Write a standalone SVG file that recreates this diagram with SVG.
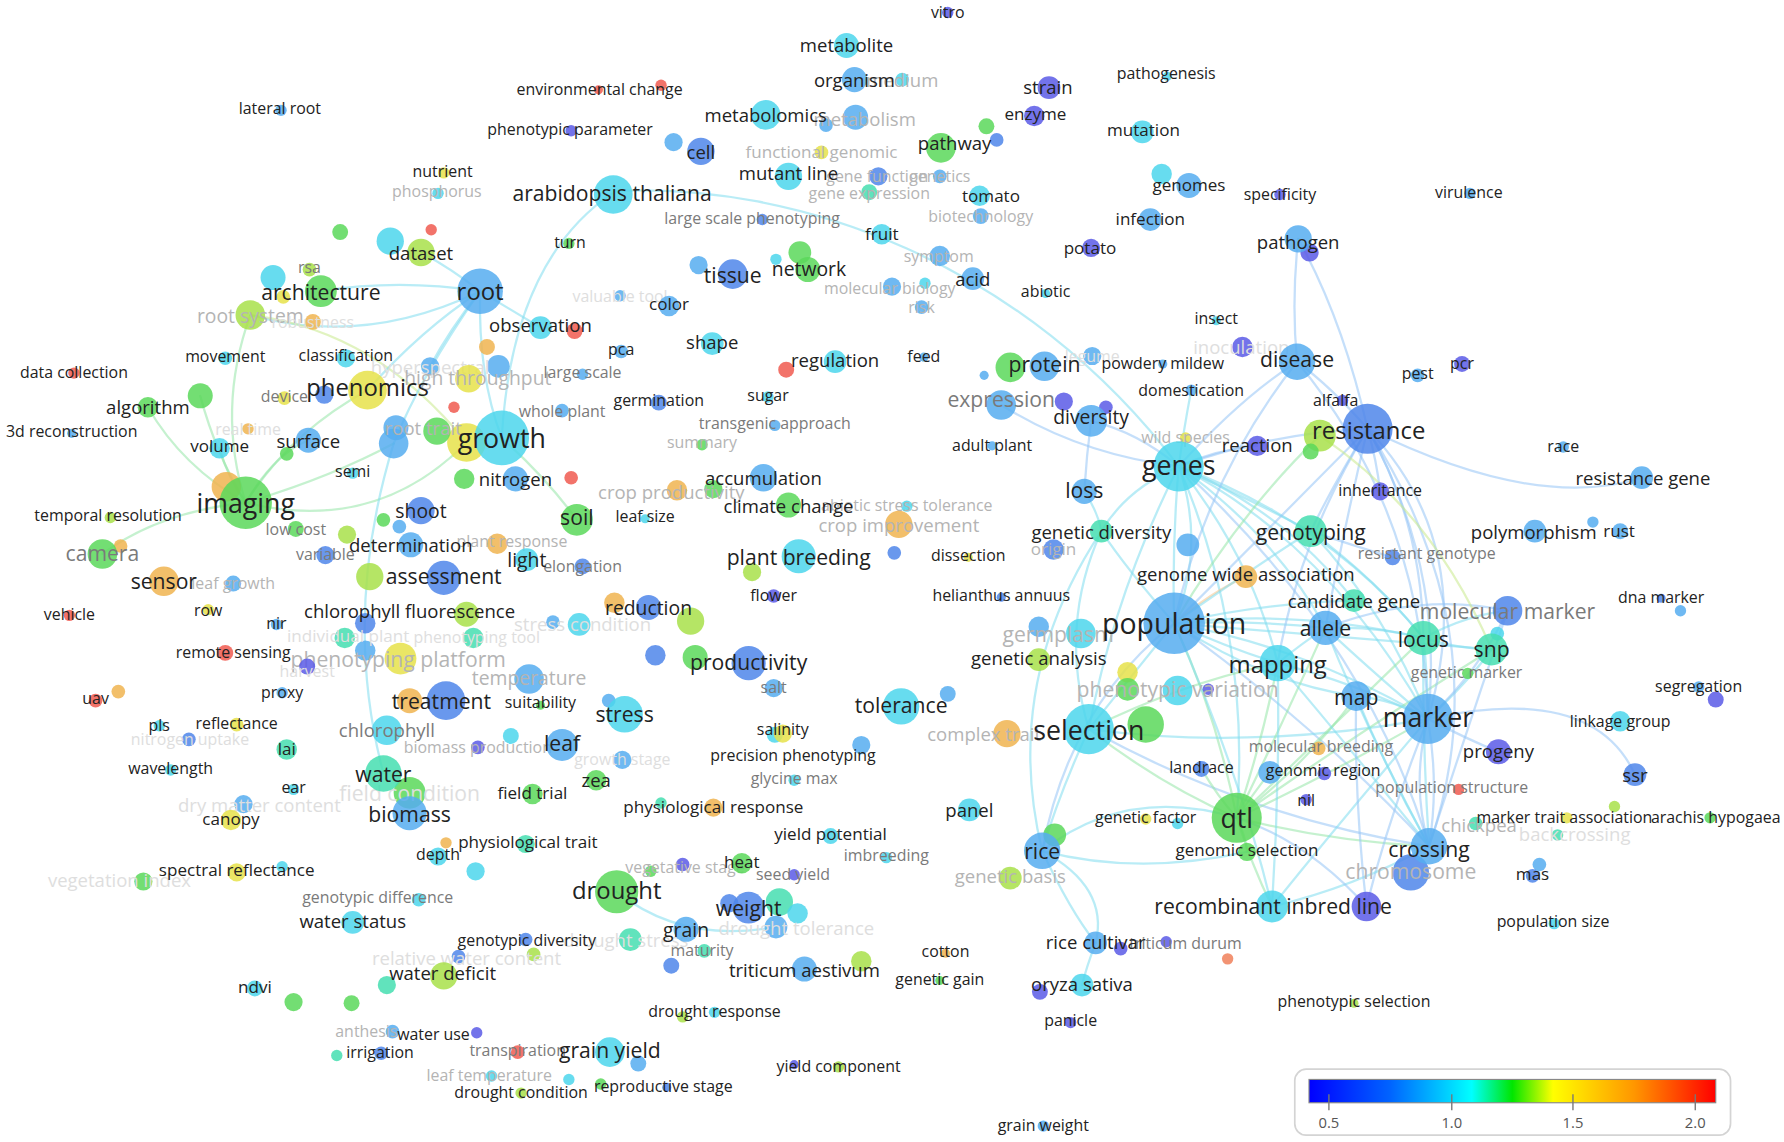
<svg xmlns="http://www.w3.org/2000/svg" width="1784" height="1142" viewBox="0 0 1784 1142">
<defs>
<style>
text{font-family:"Open Sans","Liberation Sans",sans-serif;text-anchor:middle;dominant-baseline:central}
.t{fill:#222}.m{fill:#7a7a7a}.f{fill:#b4b4b4}.x{fill:#dedede}
.s14{font-size:14px}.s15{font-size:15px}.s16{font-size:16.3px}.s17{font-size:17px}.s18{font-size:18.6px}.s21{font-size:21px}.s23{font-size:23.5px}.s25{font-size:25px}
circle{fill-opacity:.85}
.pu{fill:#5a5ae6}.b{fill:#4f86ea}.lb{fill:#56adf0}.cy{fill:#4cd6ec}.tl{fill:#45deb0}.gr{fill:#5ad85a}.yg{fill:#a8e04a}.ye{fill:#e6e24a}.or{fill:#f0b450}.rd{fill:#f05a50}.ro{fill:#f0805a}
.e{fill:none;stroke-width:2;stroke-opacity:.55;stroke-linecap:round}
.ec{stroke:#7fdcef}.eb{stroke:#96c4f5}.eg{stroke:#96e6a8}.ey{stroke:#c8ea8c}.eo{stroke:#f5c58a}
.lg{font-size:13px;fill:#555}
</style>
<linearGradient id="rb" x1="0" x2="1" y1="0" y2="0">
<stop offset="0" stop-color="#0000ff"/><stop offset="0.2" stop-color="#0064ff"/><stop offset="0.4" stop-color="#00ffff"/><stop offset="0.5" stop-color="#00e600"/><stop offset="0.6" stop-color="#ffff00"/><stop offset="0.8" stop-color="#ff9600"/><stop offset="1" stop-color="#ff0000"/>
</linearGradient>
</defs>
<rect width="1784" height="1142" fill="#fff"/>
<g transform="scale(1.13776 1.13745)">
<g id="connectors">
<path class="e eg" d="M216,442 Q160,410 130,358"/>
<path class="e eg" d="M216,442 Q190,400 176,348"/>
<path class="e eg" d="M216,442 Q200,420 193,394"/>
<path class="e eg" d="M216,442 Q255,380 323,343"/>
<path class="e eg" d="M216,442 Q240,400 271,387"/>
<path class="e eg" d="M216,442 Q290,420 346,390"/>
<path class="e eg" d="M216,442 Q330,470 410,389"/>
<path class="e eg" d="M216,442 Q140,450 90,487"/>
<path class="e eg" d="M220,277 Q190,360 216,442"/>
<path class="e ec" d="M220,277 Q320,305 422,256"/>
<path class="e ey" d="M220,277 Q330,290 410,389"/>
<path class="e ec" d="M422,256 Q395,235 370,222"/>
<path class="e ec" d="M422,256 Q350,245 282,256"/>
<path class="e ec" d="M422,256 Q370,290 323,343"/>
<path class="e ec" d="M422,256 Q420,330 441,385"/>
<path class="e ec" d="M422,256 Q445,270 475,288"/>
<path class="e ec" d="M422,256 Q395,290 378,322"/>
<path class="e ec" d="M422,256 Q370,330 346,390"/>
<path class="e ec" d="M538,170 Q450,230 441,385"/>
<path class="e ec" d="M540,168 C700,160 900,230 1036,410"/>
<path class="e eg" d="M441,385 Q480,420 507,457"/>
<path class="e ec" d="M346,390 Q300,540 337,680"/>
<path class="e ec" d="M542,784 Q600,830 682,815"/>
<path class="e eb" d="M959,370 Q955,400 953,432"/>
<path class="e ec" d="M953,432 Q965,450 968,467"/>
<path class="e eb" d="M880,356 Q950,400 1036,410"/>
<path class="e eb" d="M959,370 Q1000,380 1036,410"/>
<path class="e ec" d="M1047,343 Q1040,380 1036,410"/>
<path class="e ec" d="M1036,410 Q1030,480 1032,548"/>
<path class="e ec" d="M1036,410 Q1060,480 1032,548"/>
<path class="e ec" d="M1036,410 Q980,520 957,641"/>
<path class="e ec" d="M1036,410 Q1100,560 1087,719"/>
<path class="e ec" d="M1036,410 Q1170,480 1255,632"/>
<path class="e ec" d="M1036,410 Q1100,490 1123,583"/>
<path class="e eb" d="M1036,410 Q1120,380 1202,377"/>
<path class="e eb" d="M1036,410 Q1090,350 1140,318"/>
<path class="e ec" d="M1036,410 Q1100,440 1152,467"/>
<path class="e ec" d="M1036,410 Q990,430 968,467"/>
<path class="e eb" d="M1036,410 Q1070,395 1105,392"/>
<path class="e ec" d="M1036,410 Q1130,450 1190,528"/>
<path class="e ec" d="M1036,410 Q1120,470 1165,552"/>
<path class="e ec" d="M1036,410 Q1170,460 1251,561"/>
<path class="e eb" d="M1036,410 Q1200,560 1256,744"/>
<path class="e ec" d="M1032,548 Q990,600 957,641"/>
<path class="e eg" d="M1032,548 Q1070,630 1087,719"/>
<path class="e ec" d="M1032,548 Q1150,570 1255,632"/>
<path class="e ec" d="M1032,548 Q1080,570 1123,583"/>
<path class="e ec" d="M1032,548 Q1100,545 1165,552"/>
<path class="e ec" d="M1032,548 Q1140,535 1251,561"/>
<path class="e eb" d="M1032,548 Q1160,640 1256,744"/>
<path class="e eb" d="M1032,548 Q1130,450 1202,377"/>
<path class="e ec" d="M1032,548 Q990,500 968,467"/>
<path class="e eb" d="M1032,548 Q940,620 916,748"/>
<path class="e ec" d="M1032,548 Q1090,680 1118,797"/>
<path class="e eo" d="M1032,548 Q1065,520 1095,507"/>
<path class="e ec" d="M1032,548 Q1110,600 1192,612"/>
<path class="e ec" d="M1032,548 Q1100,500 1152,467"/>
<path class="e ec" d="M1032,548 Q1110,530 1190,528"/>
<path class="e ec" d="M1032,548 Q1170,560 1311,571"/>
<path class="e eg" d="M1032,548 Q1090,450 1160,383"/>
<path class="e eg" d="M957,641 Q1020,690 1087,719"/>
<path class="e ec" d="M957,641 Q1100,660 1255,632"/>
<path class="e ec" d="M957,641 Q930,700 916,748"/>
<path class="e eg" d="M957,641 Q1040,600 1123,583"/>
<path class="e ec" d="M957,641 Q930,550 968,467"/>
<path class="e eb" d="M957,641 Q1100,720 1256,744"/>
<path class="e eg" d="M1087,719 Q1170,680 1255,632"/>
<path class="e eg" d="M1087,719 Q1110,650 1123,583"/>
<path class="e eg" d="M1087,719 Q1100,760 1118,797"/>
<path class="e eg" d="M1087,719 Q1095,735 1096,749"/>
<path class="e eg" d="M1087,719 Q1170,740 1256,744"/>
<path class="e eg" d="M1087,719 Q1150,670 1192,612"/>
<path class="e eg" d="M1087,719 Q1130,630 1165,552"/>
<path class="e eg" d="M1087,719 Q1170,640 1251,561"/>
<path class="e eg" d="M1087,719 Q1200,640 1311,571"/>
<path class="e eg" d="M1087,719 Q1100,700 1116,679"/>
<path class="e eg" d="M1087,719 Q1070,700 1056,676"/>
<path class="e ec" d="M916,748 Q990,690 1087,719"/>
<path class="e ec" d="M916,748 Q1000,770 1096,749"/>
<path class="e ec" d="M916,748 Q940,800 963,829"/>
<path class="e ec" d="M916,748 Q975,780 963,829"/>
<path class="e ec" d="M963,829 Q955,850 951,866"/>
<path class="e ec" d="M916,748 Q880,600 968,467"/>
<path class="e ec" d="M1255,632 Q1255,595 1251,561"/>
<path class="e ec" d="M1255,632 Q1290,600 1311,571"/>
<path class="e ec" d="M1255,632 Q1225,615 1192,612"/>
<path class="e eb" d="M1255,632 Q1265,690 1256,744"/>
<path class="e eb" d="M1255,632 Q1240,690 1256,744"/>
<path class="e ec" d="M1255,632 Q1190,600 1123,583"/>
<path class="e ec" d="M1255,632 Q1200,585 1165,552"/>
<path class="e eb" d="M1255,632 Q1300,590 1325,537"/>
<path class="e eb" d="M1255,632 Q1270,500 1202,377"/>
<path class="e eb" d="M1255,632 Q1300,480 1202,377"/>
<path class="e eb" d="M1255,632 Q1400,600 1437,681"/>
<path class="e eb" d="M1255,632 Q1290,650 1317,661"/>
<path class="e eb" d="M1255,632 Q1220,720 1201,797"/>
<path class="e ec" d="M1255,632 Q1180,720 1118,797"/>
<path class="e eb" d="M1202,377 Q1170,340 1140,318"/>
<path class="e eb" d="M1202,377 Q1175,420 1152,467"/>
<path class="e eb" d="M1202,377 Q1210,405 1213,432"/>
<path class="e eb" d="M1202,377 Q1350,450 1443,420"/>
<path class="e eb" d="M1202,377 Q1320,560 1256,744"/>
<path class="e eb" d="M1202,377 Q1180,470 1165,552"/>
<path class="e eb" d="M1202,377 Q1250,460 1251,561"/>
<path class="e eb" d="M1202,377 Q1180,280 1141,210"/>
<path class="e eb" d="M1202,377 Q1140,480 1123,583"/>
<path class="e eb" d="M1140,318 Q1135,265 1141,210"/>
<path class="e eb" d="M1140,318 Q1060,420 1032,548"/>
<path class="e eb" d="M1140,318 Q1250,450 1255,632"/>
<path class="e ec" d="M1256,744 Q1180,650 1123,583"/>
<path class="e ec" d="M1256,744 Q1200,640 1165,552"/>
<path class="e ec" d="M1256,744 Q1250,650 1251,561"/>
<path class="e ec" d="M1256,744 Q1220,680 1192,612"/>
<path class="e ec" d="M1256,744 Q1190,780 1118,797"/>
<path class="e eb" d="M1256,744 Q1290,640 1325,537"/>
<path class="e eb" d="M1201,797 Q1150,740 1087,719"/>
<path class="e eb" d="M1201,797 Q1190,700 1192,612"/>
<path class="e ec" d="M1118,797 Q1125,690 1123,583"/>
<path class="e ec" d="M1123,583 Q1145,565 1165,552"/>
<path class="e ec" d="M1165,552 Q1210,550 1251,561"/>
<path class="e eb" d="M1165,552 Q1250,520 1325,537"/>
<path class="e ec" d="M1251,561 Q1290,540 1325,537"/>
<path class="e ec" d="M1251,561 Q1280,570 1311,571"/>
<path class="e ec" d="M1152,467 Q1220,540 1255,632"/>
<path class="e eb" d="M1152,467 Q1190,480 1224,490"/>
<path class="e ec" d="M1152,467 Q1210,510 1251,561"/>
<path class="e ey" d="M1160,383 Q1260,450 1311,571"/>
</g>
<g id="nodes">
<g id="u1"><circle class="rd" cx="581" cy="75" r="5"/></g>
<g id="u2"><circle class="lb" cx="726" cy="110" r="6"/></g>
<g id="u3"><circle class="lb" cx="592" cy="125" r="8"/></g>
<g id="u4"><circle class="gr" cx="867" cy="111" r="7"/></g>
<g id="u5"><circle class="b" cx="876" cy="123" r="6"/></g>
<g id="u6"><circle class="cy" cx="1021" cy="153" r="9"/></g>
<g id="u7"><circle class="pu" cx="1151" cy="222" r="8"/></g>
<g id="u8"><circle class="lb" cx="614" cy="233" r="8"/></g>
<g id="u9"><circle class="gr" cx="703" cy="222" r="10"/></g>
<g id="u10"><circle class="cy" cx="682" cy="228" r="5"/></g>
<g id="u11"><circle class="cy" cx="813" cy="249" r="5"/></g>
<g id="u12"><circle class="cy" cx="343" cy="212" r="12"/></g>
<g id="u13"><circle class="rd" cx="379" cy="202" r="5"/></g>
<g id="u14"><circle class="gr" cx="299" cy="204" r="7"/></g>
<g id="u15"><circle class="cy" cx="240" cy="244" r="11"/></g>
<g id="u16"><circle class="ye" cx="249" cy="261" r="6"/></g>
<g id="u17"><circle class="rd" cx="505" cy="291" r="7"/></g>
<g id="u18"><circle class="or" cx="428" cy="305" r="7"/></g>
<g id="u19"><circle class="lb" cx="438" cy="322" r="10"/></g>
<g id="u20"><circle class="rd" cx="691" cy="325" r="7"/></g>
<g id="u21"><circle class="gr" cx="888" cy="323" r="13"/></g>
<g id="u22"><circle class="lb" cx="865" cy="330" r="4"/></g>
<g id="u23"><circle class="b" cx="285" cy="347" r="8"/></g>
<g id="u24"><circle class="gr" cx="176" cy="348" r="11"/></g>
<g id="u25"><circle class="lb" cx="348" cy="376" r="11"/></g>
<g id="u26"><circle class="lb" cx="346" cy="390" r="13"/></g>
<g id="u27"><circle class="gr" cx="252" cy="399" r="6"/></g>
<g id="u28"><circle class="ye" cx="410" cy="389" r="17"/></g>
<g id="u29"><circle class="rd" cx="399" cy="358" r="5"/></g>
<g id="u30"><circle class="pu" cx="935" cy="353" r="8"/></g>
<g id="u31"><circle class="pu" cx="972" cy="358" r="6"/></g>
<g id="u32"><circle class="yg" cx="1160" cy="383" r="14"/></g>
<g id="u33"><circle class="gr" cx="1152" cy="397" r="7"/></g>
<g id="u34"><circle class="gr" cx="408" cy="421" r="9"/></g>
<g id="u35"><circle class="rd" cx="502" cy="420" r="6"/></g>
<g id="u36"><circle class="gr" cx="627" cy="430" r="8"/></g>
<g id="u37"><circle class="or" cx="199" cy="428" r="13"/></g>
<g id="u38"><circle class="gr" cx="337" cy="457" r="6"/></g>
<g id="u39"><circle class="lb" cx="351" cy="463" r="6"/></g>
<g id="u40"><circle class="lb" cx="1400" cy="459" r="5"/></g>
<g id="u41"><circle class="or" cx="106" cy="480" r="6"/></g>
<g id="u42"><circle class="yg" cx="305" cy="470" r="8"/></g>
<g id="u43"><circle class="yg" cx="661" cy="503" r="8"/></g>
<g id="u44"><circle class="b" cx="786" cy="486" r="6"/></g>
<g id="u45"><circle class="lb" cx="1044" cy="479" r="10"/></g>
<g id="u46"><circle class="yg" cx="325" cy="507" r="12"/></g>
<g id="u47"><circle class="lb" cx="1477" cy="537" r="5"/></g>
<g id="u48"><circle class="b" cx="321" cy="548" r="9"/></g>
<g id="u49"><circle class="or" cx="540" cy="530" r="9"/></g>
<g id="u50"><circle class="yg" cx="607" cy="546" r="12"/></g>
<g id="u51"><circle class="lb" cx="486" cy="547" r="6"/></g>
<g id="u52"><circle class="lb" cx="321" cy="572" r="9"/></g>
<g id="u53"><circle class="lb" cx="913" cy="551" r="9"/></g>
<g id="u54"><circle class="cy" cx="1316" cy="557" r="6"/></g>
<g id="u55"><circle class="gr" cx="611" cy="578" r="11"/></g>
<g id="u56"><circle class="b" cx="576" cy="576" r="9"/></g>
<g id="u57"><circle class="or" cx="104" cy="608" r="6"/></g>
<g id="u58"><circle class="ye" cx="991" cy="591" r="9"/></g>
<g id="u59"><circle class="gr" cx="991" cy="606" r="10"/></g>
<g id="u60"><circle class="pu" cx="1062" cy="606" r="5"/></g>
<g id="u61"><circle class="pu" cx="1508" cy="615" r="7"/></g>
<g id="u62"><circle class="or" cx="360" cy="616" r="11"/></g>
<g id="u63"><circle class="lb" cx="535" cy="616" r="6"/></g>
<g id="u64"><circle class="lb" cx="833" cy="610" r="7"/></g>
<g id="u65"><circle class="gr" cx="1007" cy="637" r="16"/></g>
<g id="u66"><circle class="cy" cx="681" cy="646" r="7"/></g>
<g id="u67"><circle class="cy" cx="449" cy="647" r="7"/></g>
<g id="u68"><circle class="pu" cx="1164" cy="680" r="6"/></g>
<g id="u69"><circle class="tl" cx="581" cy="706" r="5"/></g>
<g id="u70"><circle class="cy" cx="1035" cy="724" r="5"/></g>
<g id="u71"><circle class="yg" cx="1419" cy="709" r="5"/></g>
<g id="u72"><circle class="or" cx="392" cy="741" r="5"/></g>
<g id="u73"><circle class="gr" cx="927" cy="734" r="10"/></g>
<g id="u74"><circle class="lb" cx="1353" cy="760" r="6"/></g>
<g id="u75"><circle class="cy" cx="418" cy="766" r="8"/></g>
<g id="u76"><circle class="cy" cx="248" cy="762" r="5"/></g>
<g id="u77"><circle class="gr" cx="572" cy="766" r="5"/></g>
<g id="u78"><circle class="b" cx="641" cy="794" r="8"/></g>
<g id="u79"><circle class="tl" cx="685" cy="793" r="12"/></g>
<g id="u80"><circle class="cy" cx="701" cy="803" r="9"/></g>
<g id="u81"><circle class="pu" cx="1201" cy="797" r="13"/></g>
<g id="u82"><circle class="yg" cx="469" cy="839" r="6"/></g>
<g id="u83"><circle class="pu" cx="985" cy="834" r="6"/></g>
<g id="u84"><circle class="ro" cx="1079" cy="843" r="5"/></g>
<g id="u85"><circle class="b" cx="590" cy="849" r="7"/></g>
<g id="u86"><circle class="yg" cx="757" cy="845" r="9"/></g>
<g id="u87"><circle class="tl" cx="340" cy="866" r="8"/></g>
<g id="u88"><circle class="gr" cx="258" cy="881" r="8"/></g>
<g id="u89"><circle class="gr" cx="309" cy="882" r="7"/></g>
<g id="u90"><circle class="pu" cx="914" cy="872" r="7"/></g>
<g id="u91"><circle class="yg" cx="600" cy="894" r="5"/></g>
<g id="u92"><circle class="tl" cx="296" cy="928" r="5"/></g>
<g id="u93"><circle class="lb" cx="561" cy="935" r="7"/></g>
<g id="u94"><circle class="cy" cx="500" cy="949" r="5"/></g>
<g id="u95"><circle class="gr" cx="528" cy="953" r="5"/></g>
<g id="u96"><circle class="pu" cx="698" cy="936" r="4"/></g>

<g id="n-medium"><circle class="cy" cx="793" cy="70" r="6"/><text class="s16 f" x="793" y="70">medium</text></g>
<g id="n-metabolism"><circle class="lb" cx="752" cy="103" r="11"/><text class="s16 f" x="760" y="104">metabolism</text></g>
<g id="n-functional-genomic"><circle class="ye" cx="722" cy="134" r="6"/><text class="s15 f" x="722" y="133">functional genomic</text></g>
<g id="n-gene-function"><circle class="b" cx="772" cy="155" r="8"/><text class="s14 f" x="771" y="155">gene function</text></g>
<g id="n-genetics"><circle class="lb" cx="826" cy="155" r="6"/><text class="s14 f" x="826" y="155">genetics</text></g>
<g id="n-gene-expression"><circle class="tl" cx="764" cy="169" r="7"/><text class="s14 f" x="764" y="170">gene expression</text></g>
<g id="n-biotechnology"><circle class="lb" cx="862" cy="190" r="7"/><text class="s14 f" x="862" y="190">biotechnology</text></g>
<g id="n-symptom"><circle class="lb" cx="826" cy="225" r="9"/><text class="s14 f" x="825" y="225">symptom</text></g>
<g id="n-molecular-biology"><circle class="lb" cx="784" cy="252" r="8"/><text class="s14 f" x="782" y="253">molecular biology</text></g>
<g id="n-risk"><circle class="lb" cx="810" cy="270" r="6"/><text class="s14 f" x="810" y="270">risk</text></g>
<g id="n-root-system"><circle class="yg" cx="220" cy="277" r="13"/><text class="s17 f" x="220" y="277">root system</text></g>
<g id="n-robustness"><circle class="or" cx="275" cy="283" r="7"/><text class="s14 x" x="275" y="283">robustness</text></g>
<g id="n-valuable-tool"><circle class="lb" cx="545" cy="260" r="5"/><text class="s14 x" x="545" y="260">valuable tool</text></g>
<g id="n-phosphorus"><circle class="cy" cx="385" cy="170" r="5"/><text class="s14 f" x="384" y="168">phosphorus</text></g>
<g id="n-hyperspectral"><circle class="lb" cx="378" cy="322" r="8"/><text class="s16 x" x="378" y="322">hyperspectral</text></g>
<g id="n-high-throughput"><circle class="ye" cx="412" cy="333" r="12"/><text class="s17 f" x="420" y="332">high throughput</text></g>
<g id="n-root-trait"><circle class="gr" cx="384" cy="379" r="12"/><text class="s16 f" x="372" y="376">root trait</text></g>
<g id="n-real-time"><circle class="or" cx="218" cy="377" r="5"/><text class="s14 x" x="218" y="377">real time</text></g>
<g id="n-summary"><circle class="gr" cx="617" cy="391" r="5"/><text class="s14 f" x="617" y="389">summary</text></g>
<g id="n-wild-species"><circle class="ye" cx="1042" cy="385" r="5"/><text class="s14 f" x="1042" y="384">wild species</text></g>
<g id="n-legume"><circle class="lb" cx="960" cy="313" r="8"/><text class="s14 x" x="960" y="313">legume</text></g>
<g id="n-inoculation"><circle class="pu" cx="1092" cy="305" r="9"/><text class="s16 x" x="1091" y="305">inoculation</text></g>
<g id="n-crop-productivity"><circle class="or" cx="595" cy="431" r="9"/><text class="s16 f" x="590" y="432">crop productivity</text></g>
<g id="n-abiotic-stress-tolerance"><circle class="cy" cx="797" cy="445" r="5"/><text class="s14 f" x="797" y="444">abiotic stress tolerance</text></g>
<g id="n-crop-improvement"><circle class="or" cx="790" cy="461" r="12"/><text class="s16 f" x="790" y="461">crop improvement</text></g>
<g id="n-origin"><circle class="b" cx="926" cy="483" r="9"/><text class="s15 f" x="926" y="482">origin</text></g>
<g id="n-plant-response"><circle class="or" cx="437" cy="478" r="9"/><text class="s14 f" x="450" y="476">plant response</text></g>
<g id="n-leaf-growth"><circle class="lb" cx="205" cy="513" r="7"/><text class="s14 f" x="205" y="513">leaf growth</text></g>
<g id="n-stress-condition"><circle class="cy" cx="509" cy="549" r="10"/><text class="s16 x" x="512" y="548">stress condition</text></g>
<g id="n-individual-plant"><circle class="tl" cx="303" cy="561" r="9"/><text class="s15 x" x="306" y="559">individual plant</text></g>
<g id="n-phenotyping-tool"><circle class="tl" cx="416" cy="561" r="9"/><text class="s14 x" x="419" y="560">phenotyping tool</text></g>
<g id="n-phenotyping-platform"><circle class="ye" cx="352" cy="579" r="14"/><text class="s18 f" x="350" y="579">phenotyping platform</text></g>
<g id="n-harvest"><circle class="pu" cx="270" cy="586" r="7"/><text class="s14 x" x="270" y="590">harvest</text></g>
<g id="n-germplasm"><circle class="cy" cx="950" cy="557" r="13"/><text class="s18 f" x="930" y="557">germplasm</text></g>
<g id="n-temperature"><circle class="lb" cx="465" cy="597" r="13"/><text class="s17 f" x="465" y="596">temperature</text></g>
<g id="n-phenotypic-variation"><circle class="cy" cx="1035" cy="607" r="13"/><text class="s18 f" x="1035" y="605">phenotypic variation</text></g>
<g id="n-complex-trait"><circle class="or" cx="885" cy="645" r="12"/><text class="s16 f" x="865" y="645">complex trait</text></g>
<g id="n-nitrogen-uptake"><circle class="b" cx="166" cy="650" r="6"/><text class="s14 x" x="167" y="650">nitrogen uptake</text></g>
<g id="n-biomass-production"><circle class="pu" cx="420" cy="657" r="6"/><text class="s14 f" x="420" y="657">biomass production</text></g>
<g id="n-growth-stage"><circle class="lb" cx="547" cy="668" r="8"/><text class="s14 x" x="547" y="667">growth stage</text></g>
<g id="n-field-condition"><circle class="gr" cx="360" cy="697" r="14"/><text class="s18 x" x="360" y="697">field condition</text></g>
<g id="n-dry-matter-content"><circle class="lb" cx="214" cy="707" r="8"/><text class="s16 x" x="228" y="707">dry matter content</text></g>
<g id="n-chickpea"><circle class="tl" cx="1297" cy="724" r="6"/><text class="s16 f" x="1300" y="725">chickpea</text></g>
<g id="n-backcrossing"><circle class="tl" cx="1369" cy="734" r="5"/><text class="s16 x" x="1384" y="733">backcrossing</text></g>
<g id="n-chromosome"><circle class="b" cx="1240" cy="767" r="16"/><text class="s18 f" x="1240" y="765">chromosome</text></g>
<g id="n-vegetation-index"><circle class="gr" cx="126" cy="775" r="8"/><text class="s16 x" x="105" y="773">vegetation index</text></g>
<g id="n-vegetative-stage"><circle class="pu" cx="600" cy="760" r="6"/><text class="s14 f" x="602" y="762">vegetative stage</text></g>
<g id="n-genetic-basis"><circle class="yg" cx="888" cy="772" r="10"/><text class="s16 f" x="888" y="770">genetic basis</text></g>
<g id="n-drought-tolerance"><circle class="lb" cx="682" cy="815" r="10"/><text class="s16 x" x="700" y="815">drought tolerance</text></g>
<g id="n-drought-stress"><circle class="tl" cx="554" cy="826" r="10"/><text class="s16 x" x="550" y="826">drought stress</text></g>
<g id="n-relative-water-content"><circle class="b" cx="403" cy="841" r="6"/><text class="s16 x" x="410" y="842">relative water content</text></g>
<g id="n-anthesis"><circle class="lb" cx="345" cy="907" r="6"/><text class="s14 f" x="322" y="906">anthesis</text></g>
<g id="n-leaf-temperature"><circle class="cy" cx="432" cy="946" r="5"/><text class="s14 f" x="430" y="945">leaf temperature</text></g>

<g id="n-large-scale-phenotyping"><circle class="b" cx="670" cy="193" r="5"/><text class="s14 m" x="661" y="192">large scale phenotyping</text></g>
<g id="n-rsa"><circle class="yg" cx="272" cy="237" r="6"/><text class="s14 m" x="272" y="235">rsa</text></g>
<g id="n-large-scale"><circle class="lb" cx="512" cy="329" r="5"/><text class="s14 m" x="512" y="327">large scale</text></g>
<g id="n-whole-plant"><circle class="lb" cx="494" cy="361" r="6"/><text class="s14 m" x="494" y="361">whole plant</text></g>
<g id="n-transgenic-approach"><circle class="lb" cx="681" cy="374" r="5"/><text class="s14 m" x="681" y="372">transgenic approach</text></g>
<g id="n-device"><circle class="ye" cx="250" cy="350" r="6"/><text class="s14 m" x="250" y="348">device</text></g>
<g id="n-low-cost"><circle class="gr" cx="260" cy="465" r="7"/><text class="s14 m" x="260" y="465">low cost</text></g>
<g id="n-variable"><circle class="b" cx="286" cy="488" r="8"/><text class="s14 m" x="286" y="487">variable</text></g>
<g id="n-elongation"><circle class="b" cx="512" cy="498" r="7"/><text class="s14 m" x="512" y="498">elongation</text></g>
<g id="n-resistant-genotype"><circle class="b" cx="1224" cy="490" r="7"/><text class="s14 m" x="1254" y="486">resistant genotype</text></g>
<g id="n-genetic-marker"><circle class="gr" cx="1290" cy="592" r="5"/><text class="s14 m" x="1289" y="591">genetic marker</text></g>
<g id="n-salt"><circle class="lb" cx="680" cy="605" r="8"/><text class="s14 m" x="680" y="604">salt</text></g>
<g id="n-molecular-breeding"><circle class="or" cx="1159" cy="658" r="6"/><text class="s14 m" x="1161" y="656">molecular breeding</text></g>
<g id="n-glycine-max"><circle class="cy" cx="698" cy="686" r="5"/><text class="s14 m" x="698" y="684">glycine max</text></g>
<g id="n-population-structure"><circle class="rd" cx="1282" cy="694" r="5"/><text class="s14 m" x="1276" y="692">population structure</text></g>
<g id="n-imbreeding"><circle class="cy" cx="779" cy="754" r="5"/><text class="s14 m" x="779" y="752">imbreeding</text></g>
<g id="n-seed-yield"><circle class="pu" cx="698" cy="769" r="5"/><text class="s14 m" x="697" y="768">seed yield</text></g>
<g id="n-genotypic-difference"><circle class="cy" cx="368" cy="791" r="6"/><text class="s14 m" x="332" y="789">genotypic difference</text></g>
<g id="n-maturity"><circle class="tl" cx="619" cy="836" r="6"/><text class="s14 m" x="617" y="835">maturity</text></g>
<g id="n-triticum-durum"><circle class="pu" cx="1025" cy="828" r="5"/><text class="s14 m" x="1042" y="829">triticum durum</text></g>
<g id="n-transpiration"><circle class="rd" cx="455" cy="925" r="6"/><text class="s14 m" x="455" y="923">transpiration</text></g>
<g id="n-camera"><circle class="gr" cx="90" cy="487" r="13"/><text class="s18 m" x="90" y="486">camera</text></g>
<g id="n-chlorophyll"><circle class="cy" cx="340" cy="642" r="13"/><text class="s16 m" x="340" y="641">chlorophyll</text></g>
<g id="n-expression"><circle class="lb" cx="880" cy="356" r="13"/><text class="s18 m" x="880" y="350">expression</text></g>
<g id="n-molecular-marker"><circle class="b" cx="1325" cy="537" r="13"/><text class="s18 m" x="1325" y="537">molecular marker</text></g>

<g id="n-pathogenesis"><circle class="cy" cx="1026" cy="67" r="4"/><text class="s14 t" x="1025" y="64">pathogenesis</text></g>
<g id="n-powdery-mildew"><circle class="lb" cx="1022" cy="320" r="4"/><text class="s14 t" x="1022" y="319">powdery mildew</text></g>
<g id="n-abiotic"><circle class="cy" cx="919" cy="258" r="4"/><text class="s14 t" x="919" y="256">abiotic</text></g>
<g id="n-insect"><circle class="cy" cx="1069" cy="282" r="4"/><text class="s14 t" x="1069" y="280">insect</text></g>
<g id="n-feed"><circle class="lb" cx="812" cy="314" r="4"/><text class="s14 t" x="812" y="313">feed</text></g>
<g id="n-3d-reconstruction"><circle class="lb" cx="63" cy="381" r="4"/><text class="s14 t" x="63" y="379">3d reconstruction</text></g>
<g id="n-adult-plant"><circle class="lb" cx="872" cy="392" r="4"/><text class="s14 t" x="872" y="391">adult plant</text></g>
<g id="n-leaf-size"><circle class="cy" cx="567" cy="456" r="4"/><text class="s14 t" x="567" y="454">leaf size</text></g>
<g id="n-dissection"><circle class="ye" cx="851" cy="490" r="4"/><text class="s14 t" x="851" y="488">dissection</text></g>
<g id="n-helianthus-annuus"><circle class="b" cx="880" cy="525" r="4"/><text class="s14 t" x="880" y="523">helianthus annuus</text></g>
<g id="n-dna-marker"><circle class="b" cx="1460" cy="526" r="4"/><text class="s14 t" x="1460" y="525">dna marker</text></g>
<g id="n-suitability"><circle class="gr" cx="475" cy="620" r="4"/><text class="s14 t" x="475" y="617">suitability</text></g>
<g id="n-cotton"><circle class="or" cx="831" cy="838" r="4"/><text class="s14 t" x="831" y="836">cotton</text></g>
<g id="n-genetic-gain"><circle class="gr" cx="826" cy="862" r="4"/><text class="s14 t" x="826" y="861">genetic gain</text></g>
<g id="n-phenotypic-selection"><circle class="yg" cx="1190" cy="882" r="4"/><text class="s14 t" x="1190" y="880">phenotypic selection</text></g>
<g id="n-reproductive-stage"><circle class="b" cx="586" cy="956" r="4"/><text class="s14 t" x="583" y="955">reproductive stage</text></g>
<g id="n-vitro"><circle class="pu" cx="833" cy="11" r="5"/><text class="s14 t" x="833" y="11">vitro</text></g>
<g id="n-environmental-change"><circle class="rd" cx="526" cy="79" r="4"/><text class="s14 t" x="527" y="78">environmental change</text></g>
<g id="n-phenotypic-parameter"><circle class="pu" cx="502" cy="115" r="5"/><text class="s14 t" x="501" y="113">phenotypic parameter</text></g>
<g id="n-specificity"><circle class="pu" cx="1125" cy="171" r="5"/><text class="s14 t" x="1125" y="171">specificity</text></g>
<g id="n-virulence"><circle class="lb" cx="1292" cy="170" r="5"/><text class="s14 t" x="1291" y="169">virulence</text></g>
<g id="n-nutrient"><circle class="ye" cx="390" cy="152" r="5"/><text class="s14 t" x="389" y="150">nutrient</text></g>
<g id="n-lateral-root"><circle class="lb" cx="247" cy="97" r="5"/><text class="s14 t" x="246" y="95">lateral root</text></g>
<g id="n-turn"><circle class="gr" cx="500" cy="214" r="5"/><text class="s14 t" x="501" y="213">turn</text></g>
<g id="n-data-collection"><circle class="rd" cx="65" cy="328" r="5"/><text class="s14 t" x="65" y="327">data collection</text></g>
<g id="n-sugar"><circle class="cy" cx="675" cy="349" r="5"/><text class="s14 t" x="675" y="347">sugar</text></g>
<g id="n-domestication"><circle class="lb" cx="1047" cy="343" r="5"/><text class="s14 t" x="1047" y="343">domestication</text></g>
<g id="n-alfalfa"><circle class="pu" cx="1180" cy="352" r="5"/><text class="s14 t" x="1174" y="352">alfalfa</text></g>
<g id="n-race"><circle class="lb" cx="1374" cy="393" r="5"/><text class="s14 t" x="1374" y="392">race</text></g>
<g id="n-temporal-resolution"><circle class="yg" cx="97" cy="455" r="5"/><text class="s14 t" x="95" y="453">temporal resolution</text></g>
<g id="n-row"><circle class="ye" cx="183" cy="536" r="5"/><text class="s14 t" x="183" y="536">row</text></g>
<g id="n-vehicle"><circle class="rd" cx="61" cy="541" r="5"/><text class="s14 t" x="61" y="540">vehicle</text></g>
<g id="n-nir"><circle class="lb" cx="243" cy="549" r="5"/><text class="s14 t" x="243" y="548">nir</text></g>
<g id="n-proxy"><circle class="lb" cx="248" cy="609" r="5"/><text class="s14 t" x="248" y="608">proxy</text></g>
<g id="n-pls"><circle class="cy" cx="140" cy="638" r="5"/><text class="s14 t" x="140" y="637">pls</text></g>
<g id="n-wavelength"><circle class="cy" cx="150" cy="677" r="5"/><text class="s14 t" x="150" y="675">wavelength</text></g>
<g id="n-ear"><circle class="cy" cx="258" cy="694" r="5"/><text class="s14 t" x="258" y="692">ear</text></g>
<g id="n-genetic-factor"><circle class="ye" cx="1007" cy="720" r="5"/><text class="s14 t" x="1007" y="718">genetic factor</text></g>
<g id="n-nil"><circle class="pu" cx="1148" cy="703" r="5"/><text class="s14 t" x="1148" y="703">nil</text></g>
<g id="n-marker-trait-association"><circle class="ye" cx="1377" cy="719" r="5"/><text class="s14 t" x="1375" y="718">marker trait association</text></g>
<g id="n-arachis-hypogaea"><circle class="gr" cx="1503" cy="719" r="5"/><text class="s14 t" x="1508" y="718">arachis hypogaea</text></g>
<g id="n-segregation"><circle class="lb" cx="1493" cy="604" r="5"/><text class="s14 t" x="1493" y="603">segregation</text></g>
<g id="n-semi"><circle class="cy" cx="310" cy="416" r="5"/><text class="s14 t" x="310" y="414">semi</text></g>
<g id="n-population-size"><circle class="cy" cx="1366" cy="812" r="5"/><text class="s14 t" x="1365" y="810">population size</text></g>
<g id="n-drought-response"><circle class="cy" cx="628" cy="890" r="5"/><text class="s14 t" x="628" y="889">drought response</text></g>
<g id="n-panicle"><circle class="pu" cx="941" cy="899" r="5"/><text class="s14 t" x="941" y="897">panicle</text></g>
<g id="n-water-use"><circle class="pu" cx="419" cy="908" r="5"/><text class="s14 t" x="381" y="909">water use</text></g>
<g id="n-drought-condition"><circle class="yg" cx="458" cy="961" r="5"/><text class="s14 t" x="458" y="960">drought condition</text></g>
<g id="n-yield-component"><circle class="yg" cx="737" cy="938" r="5"/><text class="s14 t" x="737" y="937">yield component</text></g>
<g id="n-grain-weight"><circle class="lb" cx="917" cy="990" r="5"/><text class="s14 t" x="917" y="989">grain weight</text></g>
<g id="n-pca"><circle class="lb" cx="546" cy="309" r="6"/><text class="s14 t" x="546" y="307">pca</text></g>
<g id="n-movement"><circle class="cy" cx="198" cy="315" r="6"/><text class="s14 t" x="198" y="313">movement</text></g>
<g id="n-pest"><circle class="lb" cx="1246" cy="330" r="6"/><text class="s14 t" x="1246" y="328">pest</text></g>
<g id="n-reflectance"><circle class="ye" cx="208" cy="637" r="6"/><text class="s14 t" x="208" y="636">reflectance</text></g>
<g id="n-flower"><circle class="pu" cx="680" cy="524" r="6"/><text class="s14 t" x="680" y="523">flower</text></g>
<g id="n-irrigation"><circle class="b" cx="335" cy="926" r="6"/><text class="s14 t" x="334" y="925">irrigation</text></g>
<g id="n-genotypic-diversity"><circle class="b" cx="462" cy="826" r="6"/><text class="s14 t" x="463" y="826">genotypic diversity</text></g>
<g id="n-uav"><circle class="rd" cx="84" cy="616" r="6"/><text class="s14 t" x="84" y="614">uav</text></g>
<g id="n-rust"><circle class="lb" cx="1424" cy="467" r="7"/><text class="s15 t" x="1423" y="466">rust</text></g>
<g id="n-remote-sensing"><circle class="rd" cx="198" cy="574" r="7"/><text class="s14 t" x="205" y="573">remote sensing</text></g>
<g id="n-germination"><circle class="b" cx="579" cy="354" r="7"/><text class="s14 t" x="579" y="352">germination</text></g>
<g id="n-pcr"><circle class="pu" cx="1285" cy="320" r="7"/><text class="s14 t" x="1285" y="319">pcr</text></g>
<g id="n-landrace"><circle class="b" cx="1056" cy="676" r="7"/><text class="s14 t" x="1056" y="674">landrace</text></g>
<g id="n-yield-potential"><circle class="cy" cx="730" cy="735" r="7"/><text class="s15 t" x="730" y="733">yield potential</text></g>
<g id="n-mas"><circle class="b" cx="1347" cy="770" r="6"/><text class="s15 t" x="1347" y="768">mas</text></g>
<g id="n-ndvi"><circle class="cy" cx="224" cy="869" r="7"/><text class="s15 t" x="224" y="867">ndvi</text></g>
<g id="n-potato"><circle class="pu" cx="959" cy="218" r="8"/><text class="s15 t" x="958" y="218">potato</text></g>
<g id="n-classification"><circle class="cy" cx="304" cy="315" r="8"/><text class="s14 t" x="304" y="312">classification</text></g>
<g id="n-inheritance"><circle class="pu" cx="1213" cy="432" r="8"/><text class="s14 t" x="1213" y="431">inheritance</text></g>
<g id="n-salinity"><circle class="ye" cx="688" cy="645" r="8"/><text class="s14 t" x="688" y="641">salinity</text></g>
<g id="n-precision-phenotyping"><circle class="lb" cx="757" cy="655" r="8"/><text class="s14 t" x="697" y="664">precision phenotyping</text></g>
<g id="n-physiological-response"><circle class="or" cx="627" cy="710" r="8"/><text class="s15 t" x="627" y="709">physiological response</text></g>
<g id="n-physiological-trait"><circle class="tl" cx="462" cy="742" r="8"/><text class="s15 t" x="464" y="740">physiological trait</text></g>
<g id="n-depth"><circle class="cy" cx="385" cy="753" r="8"/><text class="s14 t" x="385" y="751">depth</text></g>
<g id="n-spectral-reflectance"><circle class="ye" cx="208" cy="767" r="8"/><text class="s15 t" x="208" y="764">spectral reflectance</text></g>
<g id="n-genomic-selection"><circle class="gr" cx="1096" cy="749" r="8"/><text class="s15 t" x="1096" y="747">genomic selection</text></g>
<g id="n-enzyme"><circle class="pu" cx="909" cy="102" r="9"/><text class="s15 t" x="910" y="100">enzyme</text></g>
<g id="n-tomato"><circle class="cy" cx="861" cy="172" r="9"/><text class="s15 t" x="871" y="172">tomato</text></g>
<g id="n-fruit"><circle class="cy" cx="775" cy="206" r="9"/><text class="s15 t" x="775" y="205">fruit</text></g>
<g id="n-color"><circle class="lb" cx="588" cy="269" r="9"/><text class="s15 t" x="588" y="267">color</text></g>
<g id="n-volume"><circle class="cy" cx="193" cy="394" r="9"/><text class="s15 t" x="193" y="392">volume</text></g>
<g id="n-algorithm"><circle class="gr" cx="130" cy="358" r="9"/><text class="s16 t" x="130" y="357">algorithm</text></g>
<g id="n-canopy"><circle class="ye" cx="203" cy="721" r="9"/><text class="s15 t" x="203" y="720">canopy</text></g>
<g id="n-zea"><circle class="gr" cx="524" cy="686" r="9"/><text class="s16 t" x="524" y="685">zea</text></g>
<g id="n-field-trial"><circle class="gr" cx="468" cy="698" r="9"/><text class="s15 t" x="468" y="697">field trial</text></g>
<g id="n-heat"><circle class="gr" cx="652" cy="759" r="9"/><text class="s15 t" x="652" y="757">heat</text></g>
<g id="n-lai"><circle class="tl" cx="252" cy="659" r="9"/><text class="s15 t" x="252" y="658">lai</text></g>
<g id="n-linkage-group"><circle class="cy" cx="1424" cy="634" r="9"/><text class="s14 t" x="1424" y="634">linkage group</text></g>
<g id="n-reaction"><circle class="pu" cx="1105" cy="392" r="9"/><text class="s16 t" x="1105" y="391">reaction</text></g>
<g id="n-strain"><circle class="pu" cx="922" cy="77" r="10"/><text class="s16 t" x="921" y="76">strain</text></g>
<g id="n-mutation"><circle class="cy" cx="1004" cy="116" r="10"/><text class="s15 t" x="1005" y="114">mutation</text></g>
<g id="n-infection"><circle class="lb" cx="1011" cy="193" r="10"/><text class="s15 t" x="1011" y="192">infection</text></g>
<g id="n-acid"><circle class="lb" cx="855" cy="245" r="10"/><text class="s16 t" x="855" y="245">acid</text></g>
<g id="n-observation"><circle class="cy" cx="475" cy="288" r="10"/><text class="s16 t" x="475" y="285">observation</text></g>
<g id="n-shape"><circle class="cy" cx="626" cy="302" r="10"/><text class="s16 t" x="626" y="300">shape</text></g>
<g id="n-regulation"><circle class="cy" cx="734" cy="318" r="10"/><text class="s16 t" x="734" y="316">regulation</text></g>
<g id="n-genetic-diversity"><circle class="tl" cx="968" cy="467" r="10"/><text class="s16 t" x="968" y="467">genetic diversity</text></g>
<g id="n-light"><circle class="cy" cx="463" cy="492" r="10"/><text class="s17 t" x="463" y="492">light</text></g>
<g id="n-genome-wide-association"><circle class="or" cx="1095" cy="507" r="10"/><text class="s16 t" x="1095" y="504">genome wide association</text></g>
<g id="n-candidate-gene"><circle class="tl" cx="1190" cy="528" r="10"/><text class="s16 t" x="1190" y="528">candidate gene</text></g>
<g id="n-genetic-analysis"><circle class="yg" cx="913" cy="580" r="10"/><text class="s16 t" x="913" y="578">genetic analysis</text></g>
<g id="n-panel"><circle class="cy" cx="852" cy="712" r="10"/><text class="s16 t" x="852" y="712">panel</text></g>
<g id="n-polymorphism"><circle class="lb" cx="1349" cy="467" r="10"/><text class="s16 t" x="1348" y="467">polymorphism</text></g>
<g id="n-resistance-gene"><circle class="lb" cx="1443" cy="420" r="10"/><text class="s16 t" x="1444" y="420">resistance gene</text></g>
<g id="n-ssr"><circle class="b" cx="1437" cy="681" r="10"/><text class="s16 t" x="1437" y="681">ssr</text></g>
<g id="n-genomic-region"><circle class="lb" cx="1116" cy="679" r="10"/><text class="s14 t" x="1163" y="677">genomic region</text></g>
<g id="n-water-status"><circle class="cy" cx="310" cy="811" r="10"/><text class="s16 t" x="310" y="809">water status</text></g>
<g id="n-rice-cultivar"><circle class="lb" cx="963" cy="829" r="10"/><text class="s16 t" x="963" y="828">rice cultivar</text></g>
<g id="n-oryza-sativa"><circle class="cy" cx="951" cy="866" r="10"/><text class="s16 t" x="951" y="865">oryza sativa</text></g>
<g id="n-network"><circle class="gr" cx="710" cy="237" r="11"/><text class="s17 t" x="711" y="236">network</text></g>
<g id="n-metabolite"><circle class="cy" cx="744" cy="40" r="11"/><text class="s16 t" x="744" y="39">metabolite</text></g>
<g id="n-organism"><circle class="lb" cx="751" cy="70" r="11"/><text class="s16 t" x="751" y="70">organism</text></g>
<g id="n-genomes"><circle class="lb" cx="1045" cy="163" r="11"/><text class="s15 t" x="1045" y="162">genomes</text></g>
<g id="n-surface"><circle class="lb" cx="271" cy="387" r="11"/><text class="s16 t" x="271" y="387">surface</text></g>
<g id="n-nitrogen"><circle class="lb" cx="453" cy="421" r="11"/><text class="s16 t" x="453" y="421">nitrogen</text></g>
<g id="n-loss"><circle class="lb" cx="953" cy="432" r="11"/><text class="s18 t" x="953" y="430">loss</text></g>
<g id="n-determination"><circle class="lb" cx="361" cy="479" r="11"/><text class="s16 t" x="361" y="479">determination</text></g>
<g id="n-climate-change"><circle class="gr" cx="693" cy="444" r="11"/><text class="s16 t" x="693" y="444">climate change</text></g>
<g id="n-chlorophyll-fluorescence"><circle class="yg" cx="410" cy="540" r="11"/><text class="s16 t" x="360" y="537">chlorophyll fluorescence</text></g>
<g id="n-reduction"><circle class="b" cx="570" cy="534" r="11"/><text class="s17 t" x="570" y="534">reduction</text></g>
<g id="n-progeny"><circle class="pu" cx="1317" cy="661" r="11"/><text class="s16 t" x="1317" y="660">progeny</text></g>
<g id="n-grain"><circle class="lb" cx="603" cy="817" r="11"/><text class="s17 t" x="603" y="817">grain</text></g>
<g id="n-triticum-aestivum"><circle class="lb" cx="707" cy="852" r="11"/><text class="s16 t" x="707" y="852">triticum aestivum</text></g>
<g id="n-cell"><circle class="b" cx="616" cy="133" r="12"/><text class="s16 t" x="616" y="133">cell</text></g>
<g id="n-mutant-line"><circle class="cy" cx="693" cy="155" r="12"/><text class="s16 t" x="693" y="152">mutant line</text></g>
<g id="n-pathogen"><circle class="lb" cx="1141" cy="210" r="12"/><text class="s16 t" x="1141" y="212">pathogen</text></g>
<g id="n-dataset"><circle class="yg" cx="370" cy="222" r="12"/><text class="s16 t" x="370" y="222">dataset</text></g>
<g id="n-accumulation"><circle class="lb" cx="671" cy="420" r="12"/><text class="s16 t" x="671" y="420">accumulation</text></g>
<g id="n-shoot"><circle class="b" cx="370" cy="449" r="12"/><text class="s17 t" x="370" y="449">shoot</text></g>
<g id="n-water-deficit"><circle class="yg" cx="390" cy="858" r="12"/><text class="s16 t" x="389" y="855">water deficit</text></g>
<g id="n-metabolomics"><circle class="cy" cx="673" cy="101" r="13"/><text class="s16 t" x="673" y="101">metabolomics</text></g>
<g id="n-pathway"><circle class="gr" cx="827" cy="130" r="13"/><text class="s16 t" x="839" y="125">pathway</text></g>
<g id="n-tissue"><circle class="b" cx="644" cy="241" r="13"/><text class="s18 t" x="644" y="241">tissue</text></g>
<g id="n-protein"><circle class="lb" cx="918" cy="322" r="13"/><text class="s18 t" x="918" y="320">protein</text></g>
<g id="n-sensor"><circle class="or" cx="144" cy="511" r="13"/><text class="s18 t" x="144" y="510">sensor</text></g>
<g id="n-map"><circle class="lb" cx="1192" cy="612" r="13"/><text class="s18 t" x="1192" y="612">map</text></g>
<g id="n-grain-yield"><circle class="cy" cx="536" cy="925" r="13"/><text class="s18 t" x="536" y="923">grain yield</text></g>
<g id="n-architecture"><circle class="gr" cx="282" cy="256" r="14"/><text class="s18 t" x="282" y="256">architecture</text></g>
<g id="n-diversity"><circle class="lb" cx="959" cy="370" r="14"/><text class="s17 t" x="959" y="366">diversity</text></g>
<g id="n-soil"><circle class="gr" cx="507" cy="457" r="14"/><text class="s18 t" x="507" y="454">soil</text></g>
<g id="n-genotyping"><circle class="tl" cx="1152" cy="467" r="14"/><text class="s18 t" x="1152" y="467">genotyping</text></g>
<g id="n-leaf"><circle class="lb" cx="494" cy="655" r="14"/><text class="s18 t" x="494" y="653">leaf</text></g>
<g id="n-snp"><circle class="tl" cx="1311" cy="571" r="14"/><text class="s18 t" x="1311" y="570">snp</text></g>
<g id="n-weight"><circle class="b" cx="658" cy="798" r="14"/><text class="s18 t" x="658" y="798">weight</text></g>
<g id="n-recombinant-inbred-line"><circle class="cy" cx="1118" cy="797" r="14"/><text class="s18 t" x="1119" y="796">recombinant inbred line</text></g>
<g id="n-plant-breeding"><circle class="cy" cx="702" cy="489" r="15"/><text class="s18 t" x="702" y="489">plant breeding</text></g>
<g id="n-assessment"><circle class="b" cx="390" cy="508" r="15"/><text class="s18 t" x="390" y="506">assessment</text></g>
<g id="n-allele"><circle class="lb" cx="1165" cy="552" r="15"/><text class="s18 t" x="1165" y="552">allele</text></g>
<g id="n-locus"><circle class="tl" cx="1251" cy="561" r="15"/><text class="s18 t" x="1251" y="561">locus</text></g>
<g id="n-productivity"><circle class="b" cx="658" cy="583" r="15"/><text class="s18 t" x="658" y="582">productivity</text></g>
<g id="n-biomass"><circle class="lb" cx="360" cy="715" r="15"/><text class="s18 t" x="360" y="715">biomass</text></g>
<g id="n-disease"><circle class="lb" cx="1140" cy="318" r="16"/><text class="s18 t" x="1140" y="315">disease</text></g>
<g id="n-mapping"><circle class="cy" cx="1123" cy="583" r="16"/><text class="s21 t" x="1123" y="583">mapping</text></g>
<g id="n-stress"><circle class="cy" cx="549" cy="628" r="16"/><text class="s18 t" x="549" y="627">stress</text></g>
<g id="n-tolerance"><circle class="cy" cx="792" cy="621" r="16"/><text class="s18 t" x="792" y="619">tolerance</text></g>
<g id="n-water"><circle class="tl" cx="337" cy="680" r="16"/><text class="s18 t" x="337" y="680">water</text></g>
<g id="n-rice"><circle class="lb" cx="916" cy="748" r="16"/><text class="s18 t" x="916" y="748">rice</text></g>
<g id="n-crossing"><circle class="lb" cx="1256" cy="744" r="16"/><text class="s18 t" x="1256" y="746">crossing</text></g>
<g id="n-arabidopsis-thaliana"><circle class="cy" cx="539" cy="171" r="17"/><text class="s18 t" x="538" y="169">arabidopsis thaliana</text></g>
<g id="n-phenomics"><circle class="ye" cx="323" cy="343" r="17"/><text class="s21 t" x="323" y="340">phenomics</text></g>
<g id="n-treatment"><circle class="b" cx="392" cy="616" r="17"/><text class="s18 t" x="388" y="616">treatment</text></g>
<g id="n-drought"><circle class="gr" cx="542" cy="784" r="19"/><text class="s21 t" x="542" y="782">drought</text></g>
<g id="n-root"><circle class="lb" cx="422" cy="256" r="20"/><text class="s21 t" x="422" y="255">root</text></g>
<g id="n-genes"><circle class="cy" cx="1036" cy="410" r="22"/><text class="s23 t" x="1036" y="408">genes</text></g>
<g id="n-resistance"><circle class="b" cx="1202" cy="377" r="22"/><text class="s21 t" x="1203" y="378">resistance</text></g>
<g id="n-selection"><circle class="cy" cx="957" cy="641" r="22"/><text class="s23 t" x="957" y="641">selection</text></g>
<g id="n-marker"><circle class="lb" cx="1255" cy="632" r="22"/><text class="s23 t" x="1255" y="630">marker</text></g>
<g id="n-qtl"><circle class="gr" cx="1087" cy="719" r="22"/><text class="s23 t" x="1087" y="719">qtl</text></g>
<g id="n-imaging"><circle class="gr" cx="216" cy="442" r="23"/><text class="s23 t" x="216" y="442">imaging</text></g>
<g id="n-growth"><circle class="cy" cx="441" cy="385" r="24"/><text class="s23 t" x="441" y="385">growth</text></g>
<g id="n-population"><circle class="lb" cx="1032" cy="548" r="27"/><text class="s25 t" x="1032" y="548">population</text></g>
</g>
<g id="legend">
<rect x="1138" y="940" width="383" height="58" rx="10" fill="#fff" stroke="#d4d4d4" stroke-width="1.5"/>
<rect x="1150.5" y="949" width="357.5" height="20.5" fill="url(#rb)" stroke="#888" stroke-width="1"/>
<path d="M1168 962v14M1276 962v14M1382.5 962v14M1490 962v14" stroke="#777" stroke-width="1.2"/>
<text class="lg" x="1168" y="986">0.5</text>
<text class="lg" x="1276" y="986">1.0</text>
<text class="lg" x="1382.5" y="986">1.5</text>
<text class="lg" x="1490" y="986">2.0</text>
</g>
</g>
</svg>
